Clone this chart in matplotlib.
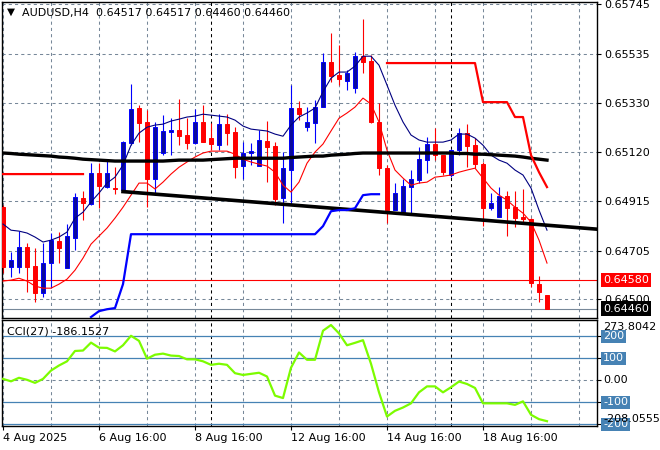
import matplotlib
matplotlib.use("Agg")
import matplotlib.pyplot as plt
import numpy as np

# AUDUSD H4 bars, index 0 = 4 Aug 16:00 (6 bars per day)
opens = [0.64890, 0.64635, 0.64635, 0.64719, 0.64639, 0.64525, 0.64652, 0.64745, 0.64631, 0.64757,
         0.64926, 0.64901, 0.65032, 0.64973, 0.64969, 0.64960, 0.65159, 0.65307, 0.65248, 0.65007,
         0.65117, 0.65205, 0.65214, 0.65193, 0.65159, 0.65248, 0.65180, 0.65150, 0.65239, 0.65205,
         0.65062, 0.65117, 0.65062, 0.65167, 0.65146, 0.64926, 0.65045, 0.65307, 0.65226, 0.65243,
         0.65311, 0.65501, 0.65446, 0.65421, 0.65391, 0.65526, 0.65505, 0.65248, 0.65053, 0.64876,
         0.64859, 0.64973, 0.65003, 0.65087, 0.65155, 0.65108, 0.65024, 0.65129, 0.65201, 0.65150,
         0.65070, 0.64884, 0.64846, 0.64935, 0.64888, 0.64846, 0.64838, 0.64563, 0.64517]
highs = [0.64897, 0.64698, 0.64787, 0.64736, 0.64715, 0.64736, 0.64779, 0.64783, 0.64817, 0.64948,
         0.64956, 0.65074, 0.65074, 0.65087, 0.65057, 0.65167, 0.65408, 0.65319, 0.65298, 0.65248,
         0.65277, 0.65264, 0.65345, 0.65264, 0.65303, 0.65319, 0.65243, 0.65281, 0.65281, 0.65226,
         0.65163, 0.65159, 0.65214, 0.65252, 0.65163, 0.65121, 0.65404, 0.65336, 0.65311, 0.65341,
         0.65539, 0.65624, 0.65573, 0.65467, 0.65543, 0.65683, 0.65531, 0.65328, 0.65066, 0.64990,
         0.65007, 0.65045, 0.65142, 0.65184, 0.65222, 0.65108, 0.65134, 0.65222, 0.65239, 0.65180,
         0.65079, 0.64948, 0.64973, 0.64956, 0.64956, 0.64965, 0.64842, 0.64597, 0.64517]
lows = [0.64610, 0.64593, 0.64610, 0.64529, 0.64487, 0.64508, 0.64546, 0.64652, 0.64631, 0.64707,
        0.64834, 0.64897, 0.64884, 0.64969, 0.64943, 0.64952, 0.65150, 0.65163, 0.64888, 0.64939,
        0.65108, 0.65108, 0.65150, 0.65134, 0.65155, 0.65163, 0.65129, 0.65129, 0.65150, 0.65011,
        0.65007, 0.65066, 0.65062, 0.64994, 0.64897, 0.64821, 0.64897, 0.65256, 0.65210, 0.65159,
        0.65311, 0.65417, 0.65404, 0.65383, 0.65370, 0.65455, 0.65243, 0.65024, 0.64821, 0.64876,
        0.64859, 0.64863, 0.64990, 0.65032, 0.65087, 0.65024, 0.65015, 0.65108, 0.65057, 0.65053,
        0.64808, 0.64876, 0.64846, 0.64766, 0.64804, 0.64825, 0.64550, 0.64487, 0.64460]
closes = [0.64636, 0.64665, 0.64719, 0.64635, 0.64525, 0.64652, 0.64749, 0.64715, 0.64766, 0.64931,
          0.64905, 0.65032, 0.64977, 0.65032, 0.64963, 0.65163, 0.65303, 0.65243, 0.65007, 0.65226,
          0.65210, 0.65214, 0.65188, 0.65159, 0.65248, 0.65163, 0.65155, 0.65239, 0.65201, 0.65057,
          0.65117, 0.65125, 0.65172, 0.65142, 0.64922, 0.65053, 0.65307, 0.65281, 0.65248, 0.65311,
          0.65501, 0.65442, 0.65429, 0.65455, 0.65526, 0.65501, 0.65248, 0.65053, 0.64876, 0.64948,
          0.64977, 0.65007, 0.65091, 0.65155, 0.65108, 0.65036, 0.65129, 0.65201, 0.65146, 0.65070,
          0.64884, 0.64905, 0.64935, 0.64884, 0.64842, 0.64838, 0.64567, 0.64529, 0.64460]

# thin navy average (upper) and thin red average (lower)
ma_navy = [0.64817, 0.64791, 0.64787, 0.64779, 0.64762, 0.64741, 0.64749, 0.64762, 0.64783, 0.64842,
           0.64867, 0.64910, 0.64948, 0.64990, 0.65015, 0.65066, 0.65150, 0.65201, 0.65226, 0.65235,
           0.65239, 0.65252, 0.65260, 0.65269, 0.65273, 0.65281, 0.65277, 0.65273, 0.65269, 0.65256,
           0.65231, 0.65218, 0.65214, 0.65210, 0.65197, 0.65188, 0.65235, 0.65269, 0.65286, 0.65307,
           0.65376, 0.65433, 0.65459, 0.65459, 0.65484, 0.65526, 0.65526, 0.65488, 0.65404, 0.65319,
           0.65248, 0.65193, 0.65172, 0.65163, 0.65163, 0.65163, 0.65172, 0.65197, 0.65197, 0.65180,
           0.65150, 0.65108, 0.65087, 0.65074, 0.65045, 0.65024, 0.64969, 0.64876, 0.64791]
ma_red = [0.64576, 0.64580, 0.64588, 0.64576, 0.64555, 0.64546, 0.64546, 0.64563, 0.64584, 0.64622,
          0.64673, 0.64732, 0.64766, 0.64800, 0.64842, 0.64888, 0.64939, 0.64990, 0.64990, 0.64965,
          0.64994, 0.65028, 0.65057, 0.65079, 0.65100, 0.65117, 0.65125, 0.65125, 0.65125, 0.65112,
          0.65091, 0.65079, 0.65070, 0.65062, 0.65036, 0.64981, 0.64952, 0.64994, 0.65074, 0.65121,
          0.65155, 0.65210, 0.65264, 0.65286, 0.65311, 0.65349, 0.65324, 0.65248, 0.65129, 0.65045,
          0.65011, 0.64981, 0.64990, 0.64994, 0.65015, 0.65019, 0.65024, 0.65036, 0.65045, 0.65053,
          0.65011, 0.64969, 0.64939, 0.64918, 0.64888, 0.64863, 0.64825, 0.64749, 0.64652]
# thick black slow average
ma_slow = [0.65117, 0.65115, 0.65112, 0.65110, 0.65108, 0.65106, 0.65104, 0.65100, 0.65098, 0.65095,
           0.65091, 0.65089, 0.65087, 0.65085, 0.65083, 0.65083, 0.65083, 0.65083, 0.65083, 0.65083,
           0.65083, 0.65085, 0.65087, 0.65087, 0.65087, 0.65087, 0.65089, 0.65091, 0.65093, 0.65095,
           0.65095, 0.65095, 0.65095, 0.65095, 0.65095, 0.65095, 0.65098, 0.65100, 0.65102, 0.65104,
           0.65104, 0.65108, 0.65110, 0.65112, 0.65115, 0.65117, 0.65117, 0.65117, 0.65117, 0.65117,
           0.65117, 0.65117, 0.65117, 0.65117, 0.65117, 0.65117, 0.65117, 0.65115, 0.65115, 0.65112,
           0.65112, 0.65110, 0.65108, 0.65106, 0.65104, 0.65100, 0.65095, 0.65091, 0.65087]

nan = np.nan
# trailing stop, red above price / blue below price
stop_red = [0.65028] * 11 + [nan] * 37 + [0.65497] * 12 + [0.65332] * 4 + [0.65269, 0.65269, 0.65108, 0.65036, 0.64973]
stop_blue = [nan] * 11 + [0.64424, 0.64449, 0.64457, 0.64462, 0.64563] + [0.64774] * 24 + \
            [0.64808, 0.64871, 0.64876, 0.64876, 0.64884, 0.64939, 0.64943, 0.64943] + [nan] * 21

trend_x = [15, 68]
trend_y = [0.64954, 0.64812]

cci = [6, -5, 11, 2, -12, 6, 44, 67, 86, 133, 135, 171, 148, 147, 131, 159, 202, 179, 98, 116,
       121, 112, 110, 95, 95, 86, 70, 75, 70, 32, 24, 29, 34, 17, -70, -81, 57, 126, 93, 93,
       225, 251, 213, 159, 170, 182, 75, -55, -165, -139, -124, -105, -55, -28, -28, -55, -32, -6, -17, -35,
       -105, -105, -105, -105, -112, -96, -157, -177, -186.1527]

price_ticks = [0.65745, 0.65535, 0.65330, 0.65120, 0.64915, 0.64705, 0.64500]
date_pos = [0, 12, 24, 36, 48, 60]
date_labels = ["4 Aug 2025", "6 Aug 16:00", "8 Aug 16:00", "12 Aug 16:00", "14 Aug 16:00", "18 Aug 16:00"]
week_breaks = [26, 56]
alert_level = 0.64580
bid = 0.64460
cci_levels = [200, 100, -100, -200]
cci_max = 273.8042
cci_min = -208.0555

W, H = 660, 450
GRID = "#778899"
STEEL = "#4682b4"
BULL_FILL = "#0a0a9c"
BULL_EDGE = "#0000ff"
BEAR = "#ff0000"
FONT = 8

fig = plt.figure(figsize=(W / 100, H / 100), dpi=100)
fig.patch.set_facecolor("white")


def box(left, top, right, bottom):
    # pixel box -> figure fraction rect
    return [left / W, 1 - bottom / H, (right - left) / W, (bottom - top) / H]


ax = fig.add_axes(box(2, 2, 597, 318))
ax2 = fig.add_axes(box(2, 320, 597, 426))

xmin, xmax = -0.125, 74.25
n = len(closes)
x = np.arange(n)
o = np.array(opens)
c = np.array(closes)
up = c >= o

for a in (ax, ax2):
    a.set_xlim(xmin, xmax)
    for gx in range(0, 75, 6):
        a.axvline(gx, color=GRID, lw=0.75, ls=(0, (3, 3)), zorder=0)
    for wb in week_breaks:
        a.axvline(wb, color="black", lw=0.75, ls=(0, (3, 3)), zorder=0.5)
    for s in a.spines.values():
        s.set_color("black")
        s.set_linewidth(1.0)

# ---- price panel
ax.set_ylim(0.64420, 0.65755)
for v in price_ticks:
    ax.axhline(v, color=GRID, lw=0.75, ls=(0, (3, 3)), zorder=0)
ax.axhline(alert_level, color="red", lw=0.8, zorder=1)
ax.axhline(bid, color=GRID, lw=0.8, zorder=1)

colors_edge = np.where(up, BULL_EDGE, BEAR)
colors_fill = np.where(up, BULL_FILL, BEAR)
ax.vlines(x, lows, highs, colors=colors_edge, lw=0.8, zorder=2)
ax.bar(x, np.maximum(np.abs(c - o), 0.00002), bottom=np.minimum(o, c), width=0.6,
       color=colors_fill, edgecolor=colors_edge, linewidth=0.7, zorder=3)

ax.plot(x, ma_navy, color="#000080", lw=0.8, zorder=4)
ax.plot(x, ma_red, color="red", lw=0.8, zorder=4)
ax.plot(x, ma_slow, color="black", lw=2.4, zorder=4)
slope = (trend_y[1] - trend_y[0]) / (trend_x[1] - trend_x[0])
ax.plot([trend_x[0], xmax + 1], [trend_y[0], trend_y[0] + slope * (xmax + 1 - trend_x[0])],
        color="black", lw=2.6, zorder=4)
ax.plot(x, stop_red, color="red", lw=1.6, zorder=5)
ax.plot(x, stop_blue, color="blue", lw=1.6, zorder=5)

ax.set_xticks([])
ax.yaxis.tick_right()
ax.set_yticks(price_ticks, labels=[f"{v:.5f}" for v in price_ticks])
ax.tick_params(axis="y", direction="out", length=3, width=0.8, pad=2, labelsize=FONT)

for level, bg in [(alert_level, "red"), (bid, "black")]:
    ax.annotate(f"{level:.5f}", xy=(1, level), xycoords=("axes fraction", "data"),
                xytext=(6, 0), textcoords="offset pixels", ha="left", va="center",
                color="white", fontsize=FONT, annotation_clip=False, zorder=10,
                bbox=dict(boxstyle="square,pad=0.2", fc=bg, ec="none"))

fig.text(7 / W, 1 - 12 / H, "\u25bc", fontsize=7.5, va="center", ha="left")
fig.text(22 / W, 1 - 13 / H,
         f"AUDUSD,H4  {opens[-1]:.5f} {highs[-1]:.5f} {lows[-1]:.5f} {closes[-1]:.5f}",
         fontsize=FONT, va="center", ha="left")

# ---- CCI panel
ax2.set_ylim(cci_min, cci_max)
ax2.axhline(0, color=GRID, lw=0.75, ls=(0, (3, 3)), zorder=0)
for lv in cci_levels:
    ax2.axhline(lv, color=STEEL, lw=0.9, zorder=1)
ax2.plot(x, cci, color="#7cfc00", lw=1.6, zorder=3)

ax2.yaxis.tick_right()
ax2.set_yticks([200, 100, 0, -100, -200], labels=[""] * 5)
ax2.tick_params(axis="y", direction="out", length=3, width=0.8)
ax2.set_xticks(date_pos, labels=date_labels)
ax2.tick_params(axis="x", direction="out", length=3, width=0.8, pad=2, labelsize=FONT)
for lbl in ax2.get_xticklabels():
    lbl.set_ha("left")

for lv in cci_levels:
    ax2.annotate(f"{lv:d}", xy=(1, lv), xycoords=("axes fraction", "data"),
                 xytext=(6, 0), textcoords="offset pixels", ha="left", va="center",
                 color="white", fontsize=FONT, annotation_clip=False, zorder=8,
                 bbox=dict(boxstyle="square,pad=0.15", fc=STEEL, ec="none"))
ax2.annotate("0.00", xy=(1, 0), xycoords=("axes fraction", "data"), xytext=(6, 0),
             textcoords="offset pixels", ha="left", va="center", fontsize=FONT,
             annotation_clip=False)
ax2.annotate(f"{cci_max:.4f}", xy=(1, cci_max), xycoords=("axes fraction", "data"),
             xytext=(6, -2), textcoords="offset pixels", ha="left", va="top",
             fontsize=FONT, annotation_clip=False, zorder=7)
ax2.annotate(f"{cci_min:.4f}", xy=(1, cci_min), xycoords=("axes fraction", "data"),
             xytext=(6, 2), textcoords="offset pixels", ha="left", va="bottom",
             fontsize=FONT, annotation_clip=False, zorder=9)

fig.text(7 / W, 1 - 331 / H, f"CCI(27) {cci[-1]:.4f}", fontsize=FONT, va="center", ha="left")

fig.savefig("out.png", dpi=100)
